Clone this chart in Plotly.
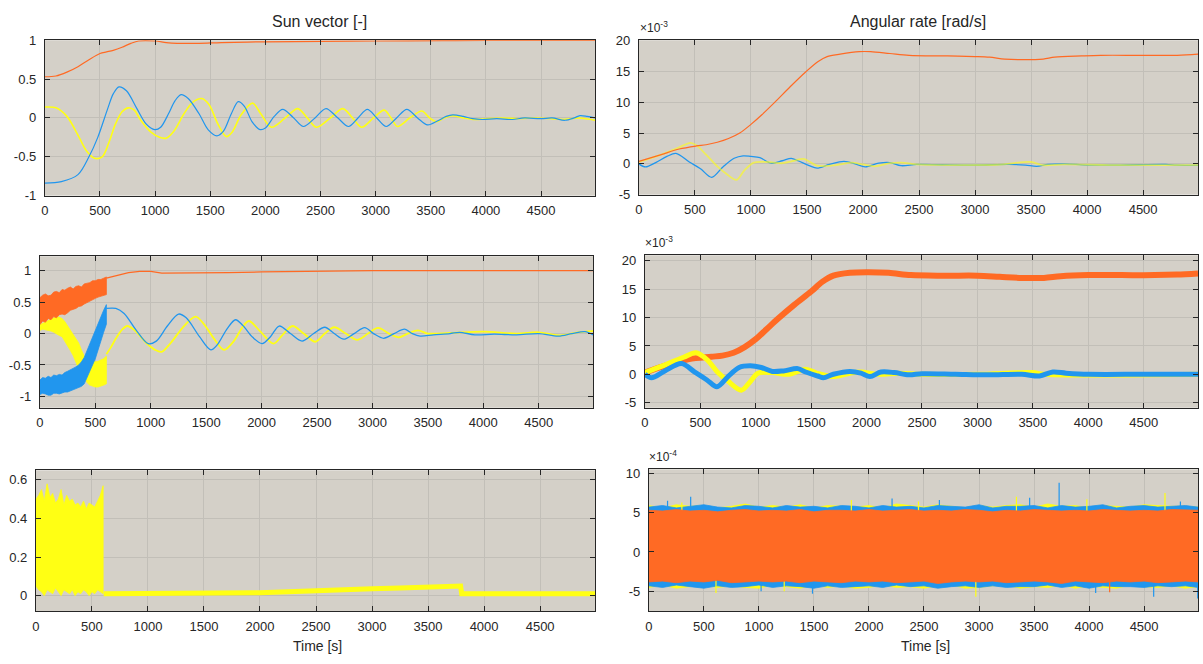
import plotly.graph_objects as go

W, H = 1203, 664

BLUE = "#2196EE"
YELLOW = "#FFFF14"
ORANGE = "#FF6A24"
BG = "#D4D0C8"
INK = "#262626"
FONT = "Liberation Sans, Arial, sans-serif"

# ---------------- Sun vector, ideal sensor (top left) ----------------
t_sx = [0, 150, 300, 400, 480, 570, 620, 672, 740, 835, 920, 997, 1050, 1120, 1180, 1235, 1300, 1400,
        1480, 1560, 1620, 1690, 1754, 1810, 1880, 1952, 2000, 2080, 2157, 2250, 2345, 2450, 2550, 2650,
        2754, 2840, 2925, 3010, 3096, 3190, 3283, 3380, 3471, 3560, 3640, 3700, 3795, 3880, 3966, 4100,
        4239, 4350, 4500, 4600, 4717, 4800, 4853, 4920, 4990]
sun_x = [-0.84, -0.82, -0.73, -0.50, -0.25, 0.12, 0.31, 0.40, 0.35, 0.12, -0.08, -0.15, -0.12, 0.05, 0.22,
         0.30, 0.25, 0.05, -0.15, -0.23, -0.17, 0.05, 0.21, 0.15, -0.05, -0.15, -0.13, 0.02, 0.11, 0.01,
         -0.11, 0.0, 0.12, 0.01, -0.11, 0.0, 0.11, 0.0, -0.11, 0.0, 0.11, 0.0, -0.09, -0.04, 0.02, 0.04,
         0.02, -0.01, -0.02, -0.01, -0.02, 0.0, -0.01, 0.0, -0.03, 0.0, 0.03, 0.02, 0.0]

t_sy = [0, 100, 200, 300, 380, 451, 520, 580, 640, 700, 758, 810, 870, 960, 1040, 1099, 1170, 1260, 1340,
        1423, 1490, 1570, 1645, 1700, 1780, 1884, 1960, 2055, 2180, 2294, 2380, 2464, 2590, 2703, 2790,
        2874, 2980, 3078, 3140, 3198, 3310, 3420, 3490, 3556, 3620, 3693, 3800, 3900, 4000, 4150, 4300,
        4450, 4600, 4700, 4850, 4990]
sun_y = [0.14, 0.13, 0.02, -0.22, -0.43, -0.52, -0.50, -0.32, -0.08, 0.08, 0.13, 0.10, -0.03, -0.18, -0.25,
         -0.26, -0.17, 0.05, 0.20, 0.25, 0.17, -0.08, -0.24, -0.18, 0.04, 0.19, 0.05, -0.12, 0.0, 0.12, 0.0,
         -0.12, 0.0, 0.12, 0.0, -0.12, 0.0, 0.10, 0.0, -0.11, 0.0, 0.09, 0.0, -0.05, 0.0, 0.03, 0.0, -0.02,
         -0.01, 0.0, -0.01, 0.0, -0.01, -0.02, 0.0, -0.03]

t_sz = [0, 100, 200, 300, 400, 500, 560, 620, 700, 780, 850, 1000, 1100, 1200, 1400, 1600, 2000, 2500,
        3000, 3600, 4000, 4990]
sun_z = [0.53, 0.54, 0.59, 0.66, 0.75, 0.83, 0.85, 0.87, 0.91, 0.96, 0.99, 0.99, 0.97, 0.96, 0.96, 0.97,
         0.98, 0.985, 0.99, 0.995, 0.997, 0.998]

# ---------------- Angular rate, ideal sensor [1e-3 rad/s] (top right) ----------------
t_wz = [0, 200, 360, 513, 600, 700, 800, 900, 1000, 1100, 1214, 1350, 1488, 1600, 1680, 1796, 1967, 2069,
        2240, 2411, 2753, 3000, 3129, 3266, 3437, 3608, 3711, 3950, 4121, 4463, 4805, 4990]
rate_z = [0.4, 1.5, 2.4, 2.9, 3.1, 3.5, 4.1, 5.0, 6.4, 8.0, 10.0, 12.5, 14.9, 16.6, 17.4, 17.8, 18.2, 18.2,
          17.9, 17.6, 17.5, 17.4, 17.3, 17.0, 16.9, 17.0, 17.3, 17.5, 17.6, 17.6, 17.6, 17.8]

t_wx = [0, 60, 150, 250, 330, 450, 550, 650, 750, 850, 930, 1000, 1080, 1180, 1280, 1360, 1420, 1520, 1590,
        1700, 1830, 1930, 2020, 2140, 2240, 2340, 2480, 2700, 3000, 3300, 3450, 3550, 3650, 3800, 4000,
        4300, 4700, 4800, 4990]
rate_x = [0.0, -0.5, 0.2, 1.2, 1.7, 0.3, -0.8, -2.2, -0.5, 0.9, 1.3, 1.2, 1.0, 0.1, 0.5, 0.9, 0.5, -0.3,
          -0.7, -0.1, 0.4, 0.0, -0.5, 0.1, 0.2, -0.3, -0.1, -0.15, -0.2, -0.1, -0.2, -0.4, -0.1, 0.0, -0.2,
          -0.2, -0.1, -0.2, -0.25]

t_wy = [0, 200, 350, 462, 513, 600, 700, 780, 870, 940, 1026, 1146, 1283, 1385, 1470, 1590, 1761, 1898,
        2001, 2103, 2240, 2343, 2480, 2800, 3200, 3500, 3600, 3800, 4200, 4600, 4990]
rate_y = [0.3, 1.5, 2.6, 3.4, 3.0, 1.5, -0.4, -1.6, -2.6, -1.1, 0.2, 0.3, 0.1, 0.5, 0.8, -0.3, -0.2, 0.2,
          -0.1, -0.4, 0.1, 0.2, -0.1, -0.2, -0.15, 0.3, -0.2, -0.1, -0.2, -0.2, -0.2]

# ---------------- Sun vector, noisy sensor (middle left) ----------------
# sensor noise envelope during the first 600 s
t_band = [0, 25, 50, 75, 100, 125, 150, 175, 200, 225, 250, 275, 300, 325, 350, 375, 400, 425, 450, 475,
          500, 525, 550, 575, 600]
nz_z_hi = [0.57, 0.61, 0.63, 0.60, 0.61, 0.66, 0.67, 0.65, 0.70, 0.69, 0.72, 0.74, 0.71, 0.75, 0.76, 0.74,
           0.79, 0.80, 0.81, 0.84, 0.84, 0.86, 0.86, 0.88, 0.90]
nz_z_lo = [0.14, 0.20, 0.18, 0.24, 0.22, 0.27, 0.25, 0.30, 0.31, 0.30, 0.33, 0.37, 0.38, 0.40, 0.43, 0.44,
           0.47, 0.50, 0.52, 0.54, 0.56, 0.58, 0.60, 0.61, 0.62]
nz_y_hi = [0.14, 0.16, 0.18, 0.20, 0.22, 0.25, 0.27, 0.26, 0.24, 0.19, 0.12, 0.07, 0.0, -0.07, -0.15,
           -0.26, -0.36, -0.40, -0.42, -0.44, -0.45, -0.44, -0.42, -0.40, -0.36]
nz_y_lo = [0.05, 0.07, 0.06, 0.05, 0.04, 0.02, 0.0, -0.03, -0.05, -0.12, -0.20, -0.27, -0.35, -0.45, -0.56,
           -0.64, -0.72, -0.78, -0.82, -0.84, -0.85, -0.85, -0.84, -0.82, -0.80]
nz_x_hi = [-0.74, -0.70, -0.71, -0.68, -0.70, -0.66, -0.67, -0.65, -0.66, -0.62, -0.60, -0.58, -0.55,
           -0.53, -0.50, -0.45, -0.38, -0.27, -0.15, -0.05, 0.05, 0.17, 0.28, 0.37, 0.46]
nz_x_lo = [-0.97, -0.95, -0.96, -0.98, -0.98, -0.95, -0.95, -0.96, -0.94, -0.93, -0.93, -0.92, -0.90,
           -0.88, -0.86, -0.84, -0.80, -0.70, -0.60, -0.50, -0.40, -0.26, -0.12, 0.02, 0.15]

t_nz = [600, 650, 700, 800, 900, 1000, 1100, 1300, 1500, 1700, 2000, 2500, 3000, 4990]
nsun_z = [0.88, 0.90, 0.92, 0.97, 0.99, 0.99, 0.96, 0.96, 0.97, 0.97, 0.98, 0.99, 1.0, 1.0]

t_nx = [600, 685, 760, 870, 977, 1050, 1150, 1251, 1320, 1440, 1542, 1600, 1690, 1765, 1830, 1920, 2005,
        2080, 2159, 2260, 2365, 2470, 2570, 2655, 2741, 2835, 2930, 3010, 3101, 3195, 3290, 3360, 3430,
        3550, 3700, 3787, 3924, 4100, 4300, 4500, 4678, 4800, 4918, 4990]
nsun_x = [0.40, 0.40, 0.32, 0.05, -0.16, -0.12, 0.12, 0.31, 0.25, -0.05, -0.26, -0.18, 0.08, 0.22, 0.13,
          -0.06, -0.16, -0.05, 0.12, 0.0, -0.12, 0.0, 0.10, 0.0, -0.09, 0.0, 0.095, 0.0, -0.075, 0.0, 0.07,
          0.0, -0.04, -0.02, 0.0, 0.02, -0.02, -0.01, -0.02, 0.0, -0.04, 0.0, 0.03, -0.02]

t_ny = [600, 640, 685, 740, 788, 850, 960, 1040, 1097, 1180, 1300, 1405, 1480, 1570, 1662, 1750, 1820, 1885,
        1990, 2108, 2190, 2279, 2380, 2485, 2570, 2656, 2760, 2862, 2960, 3050, 3150, 3238, 3320, 3410,
        3500, 3700, 4000, 4300, 4500, 4700, 4850, 4990]
nsun_y = [-0.33, -0.22, -0.08, 0.06, 0.12, 0.06, -0.15, -0.26, -0.29, -0.15, 0.12, 0.27, 0.15, -0.08, -0.26,
          -0.12, 0.08, 0.20, 0.03, -0.16, -0.02, 0.12, 0.0, -0.13, 0.0, 0.10, 0.0, -0.10, 0.0, 0.09, 0.0,
          -0.06, 0.0, 0.05, 0.0, 0.01, 0.03, 0.0, 0.02, -0.03, 0.02, 0.04]

# ---------------- Angular rate, noisy sensor [1e-3 rad/s] (middle right) ----------------
t_mz = [0, 200, 400, 600, 700, 800, 900, 1000, 1100, 1200, 1350, 1500, 1600, 1700, 1850, 2000, 2200, 2400,
        2700, 3000, 3200, 3400, 3600, 3750, 4000, 4300, 4600, 4800, 4990]
nrate_z = [0.3, 1.6, 2.7, 3.1, 3.3, 3.8, 4.8, 6.2, 8.0, 9.8, 12.3, 14.6, 16.3, 17.4, 17.9, 18.0, 17.9, 17.5,
           17.4, 17.4, 17.2, 17.0, 17.0, 17.3, 17.5, 17.5, 17.5, 17.6, 17.8]
t_mx = [0, 60, 180, 330, 450, 560, 650, 750, 850, 950, 1050, 1150, 1250, 1380, 1450, 1560, 1610, 1700, 1850,
        1950, 2030, 2130, 2250, 2380, 2500, 2800, 3100, 3400, 3560, 3680, 3800, 4000, 4500, 4990]
nrate_x = [0.0, -0.6, 0.6, 1.9, 0.4, -1.0, -2.2, -0.4, 1.2, 1.5, 1.2, 0.5, 0.6, 1.0, 0.4, -0.3, -0.6, 0.0,
           0.5, 0.2, -0.4, 0.4, 0.3, -0.1, 0.1, 0.0, -0.1, 0.0, -0.3, 0.4, 0.2, 0.0, 0.0, 0.0]
t_my = [0, 200, 350, 460, 560, 650, 750, 870, 950, 1020, 1150, 1300, 1450, 1550, 1700, 1850, 1950, 2100,
        2300, 2500, 3000, 3500, 3600, 4990]
nrate_y = [0.3, 1.8, 3.0, 3.8, 2.6, 0.5, -1.2, -2.8, -1.3, 0.2, 0.3, 0.0, 0.9, 0.2, -0.4, 0.2, 0.4, 0.0,
           0.2, 0.0, 0.0, 0.3, 0.0, 0.0]

# ---------------- Sun vector error (bottom left) ----------------
t_eb = [0, 25, 50, 75, 100, 125, 150, 175, 200, 225, 250, 275, 300, 325, 350, 375, 400, 425, 450, 475,
        500, 525, 550, 575, 600]
err_hi = [0.50, 0.52, 0.55, 0.49, 0.58, 0.51, 0.53, 0.48, 0.50, 0.55, 0.47, 0.52, 0.49, 0.50, 0.47, 0.48,
          0.46, 0.49, 0.45, 0.48, 0.47, 0.46, 0.49, 0.52, 0.57]
err_lo = [0.05, 0.03, 0.02, 0.0, 0.03, 0.02, 0.01, 0.04, 0.02, 0.0, 0.03, 0.02, 0.01, 0.03, 0.0, 0.02,
          0.01, 0.03, 0.02, 0.0, 0.02, 0.01, 0.03, 0.02, 0.01]
t_el = [605, 1000, 1500, 1750, 2000, 2250, 2500, 2750, 3000, 3250, 3500, 3700, 3790, 3800, 4990]
err_line = [0.01, 0.01, 0.01, 0.012, 0.015, 0.02, 0.027, 0.03, 0.035, 0.04, 0.045, 0.048, 0.05, 0.01, 0.01]

# ---------------- Angular rate error [1e-4 rad/s] (bottom right) ----------------
t_rb = [0, 125, 250, 375, 500, 625, 750, 875, 1000, 1125, 1250, 1375, 1500, 1625, 1750, 1875, 2000, 2125,
        2250, 2375, 2500, 2625, 2750, 2875, 3000, 3125, 3250, 3375, 3500, 3625, 3750, 3875, 4000, 4125,
        4250, 4375, 4500, 4625, 4750, 4875, 4990]
rz_hi = [5.3, 5.2, 5.4, 5.2, 5.3, 5.1, 5.3, 5.4, 5.2, 5.3, 5.2, 5.4, 5.1, 5.3, 5.3, 5.2, 5.4, 5.2, 5.3, 5.4,
         5.2, 5.3, 5.2, 5.4, 5.3, 5.1, 5.3, 5.2, 5.4, 5.3, 5.2, 5.3, 5.2, 5.4, 5.3, 5.2, 5.3, 5.2, 5.4, 5.3, 5.3]
rz_lo = [-3.8, -3.7, -3.9, -3.7, -3.8, -3.6, -3.9, -3.8, -3.7, -3.8, -3.7, -3.9, -3.7, -3.8, -3.9, -3.7,
         -3.8, -3.7, -3.9, -3.8, -3.7, -4.0, -3.8, -3.7, -3.8, -3.7, -3.9, -3.8, -3.7, -3.8, -4.0, -3.7,
         -3.8, -3.9, -3.7, -3.8, -3.7, -3.9, -3.8, -3.7, -3.8]
rx_hi = [5.7, 5.9, 5.6, 5.8, 6.0, 5.7, 5.6, 5.9, 5.8, 5.6, 5.9, 5.7, 5.8, 5.6, 5.9, 5.8, 5.6, 5.9, 5.7, 5.8,
         5.6, 5.9, 5.8, 5.7, 6.0, 5.6, 5.8, 5.8, 5.9, 5.6, 5.9, 5.7, 5.8, 6.0, 5.6, 5.8, 5.9, 5.7, 5.8, 5.9, 5.7]
rx_lo = [-4.3, -4.5, -4.2, -4.4, -4.6, -4.3, -4.5, -4.4, -4.2, -4.5, -4.3, -4.4, -4.6, -4.3, -4.5, -4.4,
         -4.3, -4.5, -4.2, -4.4, -4.3, -4.6, -4.4, -4.3, -4.5, -4.3, -4.5, -4.4, -4.4, -4.2, -4.5, -4.3,
         -4.6, -4.3, -4.4, -4.4, -4.5, -4.3, -4.4, -4.3, -4.5]
ry_hi = [5.9, 5.6, 6.0, 5.8, 5.9, 5.6, 5.8, 6.1, 5.7, 5.9, 5.7, 6.0, 5.6, 5.9, 5.8, 5.7, 5.9, 5.6, 6.1, 5.9,
         5.7, 6.0, 5.8, 5.6, 5.9, 5.7, 5.9, 6.0, 5.7, 6.1, 5.8, 5.9, 5.6, 5.9, 5.8, 5.7, 6.0, 5.9, 5.8, 5.8, 5.7]
ry_lo = [-4.5, -4.2, -4.6, -4.4, -4.2, -4.5, -4.3, -4.5, -4.6, -4.2, -4.4, -4.6, -4.2, -4.5, -4.3, -4.6,
         -4.5, -4.2, -4.5, -4.4, -4.6, -4.3, -4.2, -4.6, -4.5, -4.3, -4.2, -4.6, -4.4, -4.5, -4.2, -4.6,
         -4.3, -4.5, -4.6, -4.2, -4.4, -4.5, -4.3, -4.6, -4.4]
# isolated noise peaks
spike_x_t = [380, 1487, 3728, 4587, 4987, 2210, 3460, 170, 1020, 2640, 4060, 4830]
spike_x_v = [7.0, -5.3, 8.8, -5.7, -5.9, 6.8, 6.9, 6.5, -5.0, 6.6, -5.2, 6.4]
spike_y_t = [4690, 2971, 610, 3340, 1840, 300, 1230, 2450, 3980]
spike_y_v = [7.5, -5.7, -5.2, 7.0, 6.6, 6.3, -5.0, 6.4, 6.7]
spike_z_t = [4187]
spike_z_v = [-5.1]

XMAX = 4990

# panel boxes in page pixels: left, top, right, bottom
boxes = {
    1: (41, 34, 593, 193),
    2: (637, 34, 1198, 192),
    3: (36, 255, 591, 410),
    4: (643, 254, 1198, 410),
    5: (32, 474, 593, 618),
    6: (647, 473, 1198, 618),
}
yranges = {1: [-1, 1], 2: [-5, 20.05], 3: [-1.18, 1.23], 4: [-5.9, 21.0], 5: [-0.08, 0.65], 6: [-7.5, 10.5]}
ytick_vals = {
    1: [-1, -0.5, 0, 0.5, 1],
    2: [-5, 0, 5, 10, 15, 20],
    3: [-1, -0.5, 0, 0.5, 1],
    4: [-5, 0, 5, 10, 15, 20],
    5: [0, 0.2, 0.4, 0.6],
    6: [-5, 0, 5, 10],
}
xtick_vals = list(range(0, 5000, 500))

fig = go.Figure()


def ax_ids(k):
    return ("x" if k == 1 else f"x{k}"), ("y" if k == 1 else f"y{k}")


def line(k, t, v, color, width=1.2, shape="spline", opacity=1.0):
    xa, ya = ax_ids(k)
    fig.add_trace(go.Scatter(x=t, y=v, mode="lines", xaxis=xa, yaxis=ya, opacity=opacity,
                             line=dict(color=color, width=width, shape=shape, smoothing=0.9),
                             showlegend=False, hoverinfo="skip"))


def band(k, t, hi, lo, color):
    xa, ya = ax_ids(k)
    fig.add_trace(go.Scatter(x=list(t) + list(t)[::-1], y=list(hi) + list(lo)[::-1], mode="lines",
                             fill="toself", fillcolor=color, xaxis=xa, yaxis=ya,
                             line=dict(color=color, width=0.8), showlegend=False, hoverinfo="skip"))


def stems(k, t, v, color):
    xa, ya = ax_ids(k)
    xs, ys = [], []
    for ti, vi in zip(t, v):
        xs += [ti, ti, None]
        ys += [0, vi, None]
    fig.add_trace(go.Scatter(x=xs, y=ys, mode="lines", xaxis=xa, yaxis=ya,
                             line=dict(color=color, width=1.2), showlegend=False, hoverinfo="skip"))


# top left
line(1, t_sy, sun_y, YELLOW, 1.6)
line(1, t_sx, sun_x, BLUE, 1.2)
line(1, t_sz, sun_z, ORANGE, 1.2)

# top right
line(2, t_wx, rate_x, BLUE, 1.3)
line(2, t_wy, rate_y, YELLOW, 1.8, opacity=0.6)
line(2, t_wz, rate_z, ORANGE, 1.2)

# middle left
band(3, t_band, nz_y_hi, nz_y_lo, YELLOW)
band(3, t_band, nz_x_hi, nz_x_lo, BLUE)
band(3, t_band, nz_z_hi, nz_z_lo, ORANGE)
line(3, t_ny, nsun_y, YELLOW, 1.8)
line(3, t_nx, nsun_x, BLUE, 1.3)
line(3, t_nz, nsun_z, ORANGE, 1.3, shape="linear")

# middle right
line(4, t_mz, nrate_z, ORANGE, 6)
line(4, t_my, nrate_y, YELLOW, 5)
line(4, t_mx, nrate_x, BLUE, 5)

# bottom left
band(5, t_eb, err_hi, err_lo, YELLOW)
line(5, t_el, err_line, YELLOW, 5, shape="linear")

# bottom right
band(6, t_rb, ry_hi, ry_lo, YELLOW)
band(6, t_rb, rx_hi, rx_lo, BLUE)
stems(6, spike_y_t, spike_y_v, YELLOW)
stems(6, spike_x_t, spike_x_v, BLUE)
stems(6, spike_z_t, spike_z_v, ORANGE)
band(6, t_rb, rz_hi, rz_lo, ORANGE)

layout = dict(
    width=W, height=H, margin=dict(l=0, r=0, t=0, b=0),
    paper_bgcolor="white", plot_bgcolor=BG, showlegend=False,
    font=dict(family=FONT, size=13, color=INK),
)
common = dict(showline=True, linecolor=INK, linewidth=1, mirror="ticks", ticks="inside", ticklen=5,
              tickcolor=INK, tickwidth=1, showgrid=True, gridcolor="#C2BFB8", gridwidth=1, zeroline=False,
              tickfont=dict(family=FONT, size=13, color=INK))
for k, (l, t, r, b) in boxes.items():
    xa, ya = ax_ids(k)
    xname = "xaxis" if k == 1 else f"xaxis{k}"
    yname = "yaxis" if k == 1 else f"yaxis{k}"
    layout[xname] = dict(common, domain=[l / W, r / W], range=[0, XMAX], anchor=ya,
                         tickvals=xtick_vals, ticktext=[str(v) for v in xtick_vals], ticklabelstandoff=3)
    layout[yname] = dict(common, domain=[1 - b / H, 1 - t / H], range=yranges[k], anchor=xa,
                         tickvals=ytick_vals[k], ticktext=[f"{v:g}" for v in ytick_vals[k]],
                         ticklabelstandoff=5)
fig.update_layout(**layout)


def note(text, px, py, size=13, xanchor="center", yanchor="middle"):
    fig.add_annotation(text=text, x=px / W, y=1 - py / H, xref="paper", yref="paper", showarrow=False,
                       xanchor=xanchor, yanchor=yanchor, font=dict(family=FONT, size=size, color=INK))


note("Sun vector [-]", 317, 15, 16)
note("Angular rate [rad/s]", 917, 15, 16)
note("×10<sup>-3</sup>", 636, 31, 12, xanchor="left", yanchor="bottom")
note("×10<sup>-3</sup>", 641, 251, 12, xanchor="left", yanchor="bottom")
note("×10<sup>-4</sup>", 645, 470, 12, xanchor="left", yanchor="bottom")
note("Time [s]", 315, 654, 14)
note("Time [s]", 925, 654, 14)

fig.write_html("out.html")
